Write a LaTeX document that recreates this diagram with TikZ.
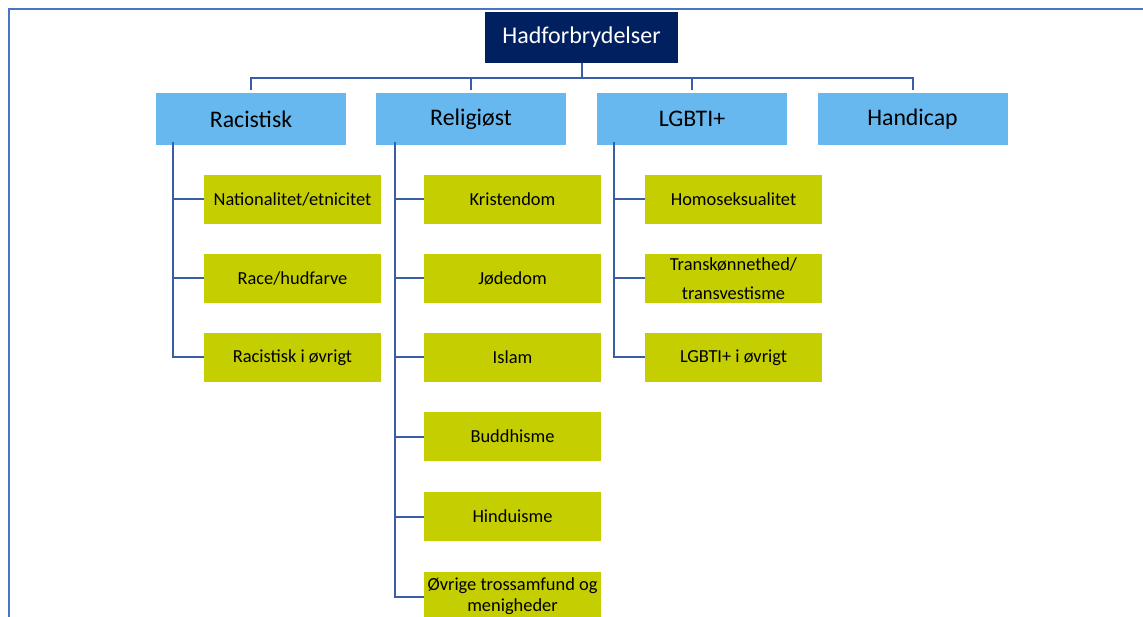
\documentclass[tikz,border=0pt]{standalone}
\usepackage{fontspec}
\setmainfont{Carlito}
\usepackage{tikz}
\usetikzlibrary{positioning,calc}

\definecolor{navybox}{HTML}{002060}
\definecolor{skybox}{HTML}{66B8EE}
\definecolor{limebox}{HTML}{C5CE00}
\definecolor{linkblue}{HTML}{3A5DA8}
\definecolor{framblue}{HTML}{4C74C2}

\tikzset{
  topbox/.style={fill=navybox, text=white, minimum width=193pt, minimum height=51pt,
    inner sep=0pt, font=\fontsize{24}{28}\selectfont},
  catbox/.style={fill=skybox, text=black, minimum width=190pt, minimum height=52pt,
    inner sep=0pt, font=\fontsize{23.8}{28}\selectfont},
  subbox/.style={fill=limebox, text=black, minimum width=177pt, minimum height=49pt,
    inner sep=0pt, align=center, font=\fontsize{18.4}{21}\selectfont},
  link/.style={linkblue, line width=2pt},
}

\begin{document}
\begin{tikzpicture}[x=1pt,y=-1pt]
  \useasboundingbox (0,0) rectangle (1143,617);
  \clip (0,0) rectangle (1143,617);
  \draw[framblue, line width=1.4pt] (9,617) -- (9,9) -- (1143,9);

  % top and first level
  \node[topbox] (had) at (581.5,37.5) {Hadforbrydelser};
  \node[catbox] (rac) at (251,119) {Racistisk};
  \node[catbox] (rel) at (471,119) {Religiøst};
  \node[catbox] (lgb) at (692,119) {LGBTI+};
  \node[catbox] (han) at (912.5,119) {Handicap};

  % racistisk
  \node[subbox] (rac1) at (292.5,199.5) {Nationalitet/etnicitet};
  \node[subbox] (rac2) at (292.5,278.5) {Race/hudfarve};
  \node[subbox] (rac3) at (292.5,357.5) {Racistisk i øvrigt};

  % religiøst
  \node[subbox] (rel1) at (512.5,199.5) {Kristendom};
  \node[subbox] (rel2) at (512.5,278.5) {Jødedom};
  \node[subbox] (rel3) at (512.5,357.5) {Islam};
  \node[subbox] (rel4) at (512.5,436.5) {Buddhisme};
  \node[subbox] (rel5) at (512.5,516.5) {Hinduisme};
  \node[subbox] (rel6) at (512.5,596.5) {Øvrige trossamfund og\\menigheder};

  % lgbti+
  \node[subbox] (lgb1) at (733.5,199.5) {Homoseksualitet};
  \node[subbox] (lgb2) at (733.5,278.5) {Transkønnethed/\\[8pt]transvestisme};
  \node[subbox] (lgb3) at (733.5,357.5) {LGBTI+ i øvrigt};

  \coordinate (bus) at ($(had.south)+(0,15)$);
  \foreach \c in {rac,rel,lgb,han}
    \draw[link, shorten >=3pt] (had.south) -- (bus) -| (\c.north);

  \foreach \c in {rac1,rac2,rac3}
    \draw[link] ([xshift=17pt,yshift=3pt]rac.south west) |- (\c.west);
  \foreach \c in {rel1,rel2,rel3,rel4,rel5,rel6}
    \draw[link] ([xshift=19pt,yshift=3pt]rel.south west) |- (\c.west);
  \foreach \c in {lgb1,lgb2,lgb3}
    \draw[link] ([xshift=17pt,yshift=3pt]lgb.south west) |- (\c.west);
\end{tikzpicture}
\end{document}
